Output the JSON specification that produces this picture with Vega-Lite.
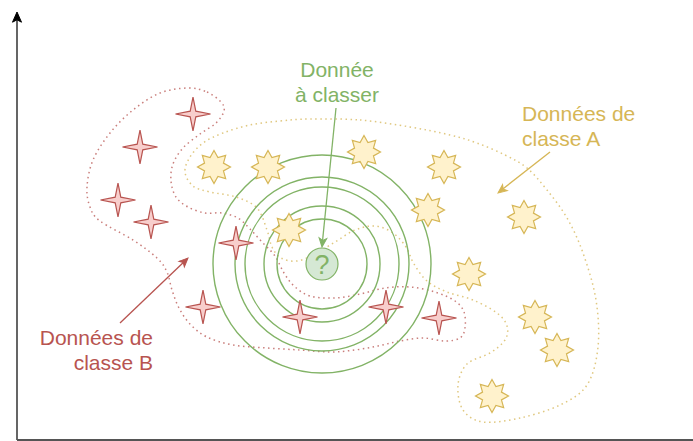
{
  "$schema": "https://vega.github.io/schema/vega-lite/v6.json",
  "width": 693,
  "height": 441,
  "padding": 0,
  "autosize": {"type": "none"},
  "background": "white",
  "config": {"view": {"stroke": null}},
  "datasets": {
    "contours": [
      {"classe": "B", "i": 0, "x": 188, "y": 88},
      {"classe": "B", "i": 1, "x": 207, "y": 92},
      {"classe": "B", "i": 2, "x": 221, "y": 102},
      {"classe": "B", "i": 3, "x": 224, "y": 111},
      {"classe": "B", "i": 4, "x": 216, "y": 123},
      {"classe": "B", "i": 5, "x": 200, "y": 134},
      {"classe": "B", "i": 6, "x": 183, "y": 148},
      {"classe": "B", "i": 7, "x": 173, "y": 164},
      {"classe": "B", "i": 8, "x": 171, "y": 181},
      {"classe": "B", "i": 9, "x": 176, "y": 197},
      {"classe": "B", "i": 10, "x": 188, "y": 207},
      {"classe": "B", "i": 11, "x": 205, "y": 213},
      {"classe": "B", "i": 12, "x": 222, "y": 213},
      {"classe": "B", "i": 13, "x": 238, "y": 218},
      {"classe": "B", "i": 14, "x": 250, "y": 229},
      {"classe": "B", "i": 15, "x": 262, "y": 242},
      {"classe": "B", "i": 16, "x": 275, "y": 256},
      {"classe": "B", "i": 17, "x": 284, "y": 273},
      {"classe": "B", "i": 18, "x": 294, "y": 286},
      {"classe": "B", "i": 19, "x": 310, "y": 296},
      {"classe": "B", "i": 20, "x": 335, "y": 298},
      {"classe": "B", "i": 21, "x": 360, "y": 294},
      {"classe": "B", "i": 22, "x": 385, "y": 288},
      {"classe": "B", "i": 23, "x": 410, "y": 287},
      {"classe": "B", "i": 24, "x": 435, "y": 292},
      {"classe": "B", "i": 25, "x": 455, "y": 301},
      {"classe": "B", "i": 26, "x": 464, "y": 312},
      {"classe": "B", "i": 27, "x": 465, "y": 328},
      {"classe": "B", "i": 28, "x": 460, "y": 338},
      {"classe": "B", "i": 29, "x": 445, "y": 341},
      {"classe": "B", "i": 30, "x": 423, "y": 338},
      {"classe": "B", "i": 31, "x": 400, "y": 341},
      {"classe": "B", "i": 32, "x": 378, "y": 346},
      {"classe": "B", "i": 33, "x": 355, "y": 350},
      {"classe": "B", "i": 34, "x": 330, "y": 352},
      {"classe": "B", "i": 35, "x": 300, "y": 350},
      {"classe": "B", "i": 36, "x": 267, "y": 348},
      {"classe": "B", "i": 37, "x": 233, "y": 345},
      {"classe": "B", "i": 38, "x": 207, "y": 337},
      {"classe": "B", "i": 39, "x": 190, "y": 324},
      {"classe": "B", "i": 40, "x": 179, "y": 308},
      {"classe": "B", "i": 41, "x": 172, "y": 290},
      {"classe": "B", "i": 42, "x": 167, "y": 272},
      {"classe": "B", "i": 43, "x": 157, "y": 258},
      {"classe": "B", "i": 44, "x": 133, "y": 240},
      {"classe": "B", "i": 45, "x": 100, "y": 221},
      {"classe": "B", "i": 46, "x": 90, "y": 207},
      {"classe": "B", "i": 47, "x": 87, "y": 187},
      {"classe": "B", "i": 48, "x": 93, "y": 160},
      {"classe": "B", "i": 49, "x": 110, "y": 133},
      {"classe": "B", "i": 50, "x": 133, "y": 110},
      {"classe": "B", "i": 51, "x": 160, "y": 93},
      {"classe": "A", "i": 0, "x": 310, "y": 119},
      {"classe": "A", "i": 1, "x": 360, "y": 120},
      {"classe": "A", "i": 2, "x": 410, "y": 127},
      {"classe": "A", "i": 3, "x": 450, "y": 135},
      {"classe": "A", "i": 4, "x": 477, "y": 143},
      {"classe": "A", "i": 5, "x": 505, "y": 155},
      {"classe": "A", "i": 6, "x": 527, "y": 168},
      {"classe": "A", "i": 7, "x": 547, "y": 190},
      {"classe": "A", "i": 8, "x": 567, "y": 218},
      {"classe": "A", "i": 9, "x": 583, "y": 253},
      {"classe": "A", "i": 10, "x": 596, "y": 300},
      {"classe": "A", "i": 11, "x": 598, "y": 347},
      {"classe": "A", "i": 12, "x": 587, "y": 385},
      {"classe": "A", "i": 13, "x": 560, "y": 405},
      {"classe": "A", "i": 14, "x": 520, "y": 418},
      {"classe": "A", "i": 15, "x": 483, "y": 422},
      {"classe": "A", "i": 16, "x": 463, "y": 410},
      {"classe": "A", "i": 17, "x": 458, "y": 385},
      {"classe": "A", "i": 18, "x": 467, "y": 364},
      {"classe": "A", "i": 19, "x": 490, "y": 353},
      {"classe": "A", "i": 20, "x": 505, "y": 340},
      {"classe": "A", "i": 21, "x": 507, "y": 326},
      {"classe": "A", "i": 22, "x": 497, "y": 313},
      {"classe": "A", "i": 23, "x": 473, "y": 300},
      {"classe": "A", "i": 24, "x": 447, "y": 292},
      {"classe": "A", "i": 25, "x": 427, "y": 281},
      {"classe": "A", "i": 26, "x": 414, "y": 264},
      {"classe": "A", "i": 27, "x": 406, "y": 247},
      {"classe": "A", "i": 28, "x": 393, "y": 233},
      {"classe": "A", "i": 29, "x": 375, "y": 226},
      {"classe": "A", "i": 30, "x": 355, "y": 230},
      {"classe": "A", "i": 31, "x": 335, "y": 242},
      {"classe": "A", "i": 32, "x": 315, "y": 254},
      {"classe": "A", "i": 33, "x": 297, "y": 261},
      {"classe": "A", "i": 34, "x": 281, "y": 258},
      {"classe": "A", "i": 35, "x": 272, "y": 247},
      {"classe": "A", "i": 36, "x": 267, "y": 230},
      {"classe": "A", "i": 37, "x": 257, "y": 208},
      {"classe": "A", "i": 38, "x": 236, "y": 197},
      {"classe": "A", "i": 39, "x": 210, "y": 192},
      {"classe": "A", "i": 40, "x": 193, "y": 186},
      {"classe": "A", "i": 41, "x": 185, "y": 172},
      {"classe": "A", "i": 42, "x": 190, "y": 157},
      {"classe": "A", "i": 43, "x": 203, "y": 143},
      {"classe": "A", "i": 44, "x": 223, "y": 133},
      {"classe": "A", "i": 45, "x": 250, "y": 125},
      {"classe": "A", "i": 46, "x": 280, "y": 121}
    ],
    "anneaux": [
      {"x": 322, "y": 264, "rayon": 45},
      {"x": 322, "y": 264, "rayon": 58},
      {"x": 322, "y": 264, "rayon": 77},
      {"x": 322, "y": 264, "rayon": 87},
      {"x": 322, "y": 264, "rayon": 109}
    ],
    "classeB": [
      {"x": 193, "y": 114}, {"x": 140, "y": 147}, {"x": 118, "y": 200},
      {"x": 151, "y": 222}, {"x": 236, "y": 243}, {"x": 203, "y": 307},
      {"x": 300, "y": 317}, {"x": 386, "y": 307}, {"x": 439, "y": 318}
    ],
    "classeA": [
      {"x": 214, "y": 167}, {"x": 268, "y": 167}, {"x": 364, "y": 152},
      {"x": 444, "y": 167}, {"x": 428, "y": 210}, {"x": 524, "y": 217},
      {"x": 289, "y": 230}, {"x": 469, "y": 274}, {"x": 535, "y": 317},
      {"x": 557, "y": 350}, {"x": 492, "y": 396}
    ],
    "fleches": [
      {"classe": "?", "x": 336, "y": 108, "x2": 322, "y2": 246},
      {"classe": "A", "x": 550, "y": 152, "x2": 499, "y2": 192},
      {"classe": "B", "x": 120, "y": 323, "x2": 187, "y2": 259}
    ],
    "axes": [
      {"x": 17, "y": 440, "x2": 17, "y2": 20},
      {"x": 17, "y": 440, "x2": 693, "y2": 440}
    ]
  },
  "encoding": {
    "x": {"field": "x", "type": "quantitative", "scale": {"domain": [0, 693], "nice": false, "zero": false}, "axis": null},
    "y": {"field": "y", "type": "quantitative", "scale": {"domain": [0, 441], "nice": false, "zero": false, "reverse": true}, "axis": null}
  },
  "layer": [
    {
      "data": {"name": "contours"},
      "mark": {"type": "line", "interpolate": "cardinal-closed", "strokeDash": [1.5, 3.5], "strokeWidth": 1.5, "strokeOpacity": 0.75},
      "encoding": {
        "order": {"field": "i", "type": "quantitative"},
        "color": {"field": "classe", "type": "nominal", "scale": {"domain": ["A", "B", "?"], "range": ["#d6b656", "#b85450", "#82b366"]}, "legend": null}
      }
    },
    {
      "data": {"name": "anneaux"},
      "mark": {"type": "point", "shape": "circle", "filled": false, "stroke": "#82b366", "strokeWidth": 1.4, "opacity": 1},
      "encoding": {
        "size": {"field": "rayon", "type": "quantitative", "scale": {"type": "pow", "exponent": 2, "domain": [0, 109], "range": [0, 47524]}, "legend": null}
      }
    },
    {
      "data": {"name": "classeB"},
      "mark": {"type": "point", "shape": "M0,-0.97 L0.16,-0.16 L1,0 L0.16,0.16 L0,0.97 L-0.16,0.16 L-1,0 L-0.16,-0.16 Z", "filled": true, "fill": "#f8cecc", "stroke": "#b85450", "strokeWidth": 1.2, "opacity": 1, "size": 1225}
    },
    {
      "data": {"name": "classeA"},
      "mark": {"type": "point", "shape": "M0,-1 L0.237,-0.573 L0.707,-0.707 L0.573,-0.237 L1,0 L0.573,0.237 L0.707,0.707 L0.237,0.573 L0,1 L-0.237,0.573 L-0.707,0.707 L-0.573,0.237 L-1,0 L-0.573,-0.237 L-0.707,-0.707 L-0.237,-0.573 Z", "filled": true, "fill": "#fff2cc", "stroke": "#d6b656", "strokeWidth": 1.2, "opacity": 1, "size": 1089}
    },
    {
      "data": {"values": [{"x": 322, "y": 264}]},
      "mark": {"type": "point", "shape": "circle", "filled": true, "fill": "#d5e8d4", "stroke": "#82b366", "strokeWidth": 1.2, "opacity": 1, "size": 1024}
    },
    {
      "data": {"values": [{"x": 322, "y": 274, "t": "?"}]},
      "mark": {"type": "text", "font": "Liberation Sans", "fontSize": 27, "align": "center", "baseline": "alphabetic", "color": "#82b366"},
      "encoding": {"text": {"field": "t"}}
    },
    {
      "data": {"name": "fleches"},
      "mark": {"type": "rule", "strokeWidth": 1.3},
      "encoding": {
        "x2": {"field": "x2"},
        "y2": {"field": "y2"},
        "color": {"field": "classe", "type": "nominal", "legend": null}
      }
    },
    {
      "data": {"values": [{"x": 322, "y": 247}]},
      "mark": {"type": "point", "shape": "M0,0 L0.7,1.6 L0,1.2 L-0.7,1.6 Z", "filled": true, "fill": "#82b366", "stroke": "#82b366", "strokeWidth": 1, "opacity": 1, "size": 121, "angle": 186}
    },
    {
      "data": {"values": [{"x": 498, "y": 193}]},
      "mark": {"type": "point", "shape": "M0,0 L0.7,1.6 L0,1.2 L-0.7,1.6 Z", "filled": true, "fill": "#d6b656", "stroke": "#d6b656", "strokeWidth": 1, "opacity": 1, "size": 121, "angle": 232}
    },
    {
      "data": {"values": [{"x": 188, "y": 258}]},
      "mark": {"type": "point", "shape": "M0,0 L0.7,1.6 L0,1.2 L-0.7,1.6 Z", "filled": true, "fill": "#b85450", "stroke": "#b85450", "strokeWidth": 1, "opacity": 1, "size": 121, "angle": 46}
    },
    {
      "data": {"name": "axes"},
      "mark": {"type": "rule", "color": "#555555", "strokeWidth": 1.8},
      "encoding": {
        "x2": {"field": "x2"},
        "y2": {"field": "y2"}
      }
    },
    {
      "data": {"values": [{"x": 17, "y": 12}]},
      "mark": {"type": "point", "shape": "M0,0 L0.75,1.7 L0,1.3 L-0.75,1.7 Z", "filled": true, "fill": "#000000", "stroke": "#000000", "strokeWidth": 1, "opacity": 1, "size": 144}
    },
    {
      "data": {"values": [
        {"x": 337, "y": 77, "t": "Donnée"},
        {"x": 337, "y": 102, "t": "à classer"}
      ]},
      "mark": {"type": "text", "font": "Liberation Sans", "fontSize": 21, "align": "center", "baseline": "alphabetic", "color": "#82b366"},
      "encoding": {"text": {"field": "t"}}
    },
    {
      "data": {"values": [
        {"x": 522, "y": 121, "t": "Données de"},
        {"x": 522, "y": 146, "t": "classe A"}
      ]},
      "mark": {"type": "text", "font": "Liberation Sans", "fontSize": 21, "align": "left", "baseline": "alphabetic", "color": "#d6b656"},
      "encoding": {"text": {"field": "t"}}
    },
    {
      "data": {"values": [
        {"x": 153, "y": 345, "t": "Données de"},
        {"x": 153, "y": 370, "t": "classe B"}
      ]},
      "mark": {"type": "text", "font": "Liberation Sans", "fontSize": 21, "align": "right", "baseline": "alphabetic", "color": "#b85450"},
      "encoding": {"text": {"field": "t"}}
    }
  ]
}
